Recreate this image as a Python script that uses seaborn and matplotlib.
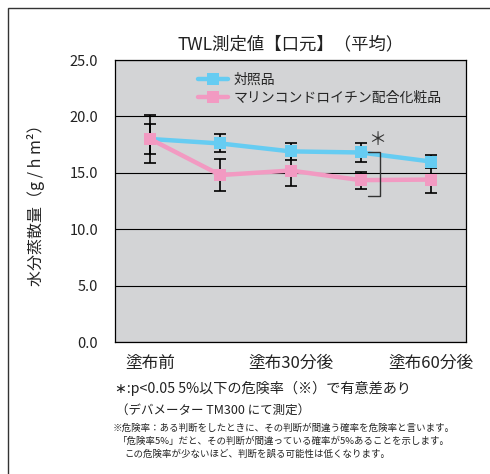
import matplotlib
matplotlib.use("Agg")
import matplotlib.pyplot as plt
import seaborn as sns
import pandas as pd
from matplotlib.patches import Rectangle

# data
timepoints = [0, 1, 2, 3, 4]
tick_labels = ["塗布前", "", "塗布30分後", "", "塗布60分後"]
control = [18.0, 17.6, 16.9, 16.8, 16.0]
control_err = [1.35, 0.8, 0.75, 0.8, 0.6]
marine = [18.0, 14.8, 15.2, 14.35, 14.4]
marine_err = [2.1, 1.45, 1.4, 0.75, 1.2]
series_names = ["対照品", "マリンコンドロイチン配合化粧品"]
yticks = [0.0, 5.0, 10.0, 15.0, 20.0, 25.0]

BLUE = "#66ccf2"
PINK = "#f29ac2"

sns.set_style("white")
plt.rcParams["font.family"] = ["Noto Sans CJK JP", "DejaVu Sans"]

df = pd.DataFrame({
    "t": timepoints * 2,
    "v": control + marine,
    "s": [series_names[0]] * 5 + [series_names[1]] * 5,
})

fig = plt.figure(figsize=(4.9, 4.74), dpi=100)
fig.patches.append(Rectangle((8 / 490, -0.1), 1.2, 1 - 8 / 474 + 0.1,
                             transform=fig.transFigure, fill=False,
                             edgecolor="#333333", linewidth=1.0))
ax = fig.add_axes([115 / 490, 1 - 342 / 474, 351 / 490, 282 / 474])
ax.set_facecolor("#d3d4d6")

# error bars behind the lines
ax.errorbar(timepoints, control, yerr=control_err, fmt="none", ecolor="black",
            elinewidth=1.2, capsize=4.5, capthick=1.2, zorder=2)
ax.errorbar(timepoints, marine, yerr=marine_err, fmt="none", ecolor="black",
            elinewidth=1.2, capsize=4.5, capthick=1.2, zorder=2)

sns.lineplot(data=df, x="t", y="v", hue="s", palette=[BLUE, PINK],
             marker="s", markersize=9, markeredgewidth=0, linewidth=3.2,
             ax=ax, zorder=3)

ax.set_xlim(-0.5, 4.5)
ax.set_ylim(0, 25)
ax.set_yticks(yticks)
ax.set_yticklabels([f"{v:.1f}" for v in yticks], fontsize=10.5, color="#222222")
ax.set_xticks(timepoints)
ax.set_xticklabels(tick_labels, fontsize=12, color="#222222")
ax.tick_params(axis="x", direction="in", length=5, width=0.8, pad=9)
ax.tick_params(axis="y", length=0, pad=12)
ax.yaxis.grid(True, color="black", linewidth=0.8)
ax.set_axisbelow(True)
for sp in ax.spines.values():
    sp.set_color("black")
    sp.set_linewidth(0.9)
ax.set_xlabel("")
ax.set_ylabel("水分蒸散量（g / h m²）", fontsize=11.5, color="#222222", labelpad=18)

# significance bracket
ax.plot([3.11, 3.27, 3.27, 3.11], [16.8, 16.8, 12.9, 12.9], color="#333333",
        linewidth=1.0, zorder=4)
ax.text(3.23, 17.9, "＊", fontsize=13, ha="center", va="center", color="#333333")

leg = ax.legend(loc="upper left", bbox_to_anchor=(0.2, 1.0), frameon=False,
                fontsize=10, handlelength=2.2, handletextpad=0.4,
                labelspacing=0.3, borderaxespad=0.5)
for h in leg.legend_handles:
    h.set_linewidth(3.2)

ax.set_title("TWL測定値【口元】（平均）", fontsize=12.5, color="#222222", pad=8)

fig.text(115 / 490, 1 - 388 / 474, "∗:p<0.05 5%以下の危険率（※）で有意差あり",
         fontsize=10.2, va="center", color="#222222")
fig.text(116 / 490, 1 - 410 / 474, "（デバメーター TM300 にて測定）",
         fontsize=9, va="center", color="#222222")
fig.text(113 / 490, 1 - 428 / 474,
         "※危険率：ある判断をしたときに、その判断が間違う確率を危険率と言います。",
         fontsize=6.8, va="center", color="#222222")
fig.text(118 / 490, 1 - 441 / 474,
         "「危険率5%」だと、その判断が間違っている確率が5%あることを示します。",
         fontsize=6.8, va="center", color="#222222")
fig.text(124 / 490, 1 - 454 / 474,
         "この危険率が少ないほど、判断を誤る可能性は低くなります。",
         fontsize=6.8, va="center", color="#222222")

fig.savefig("out.png", dpi=100)
